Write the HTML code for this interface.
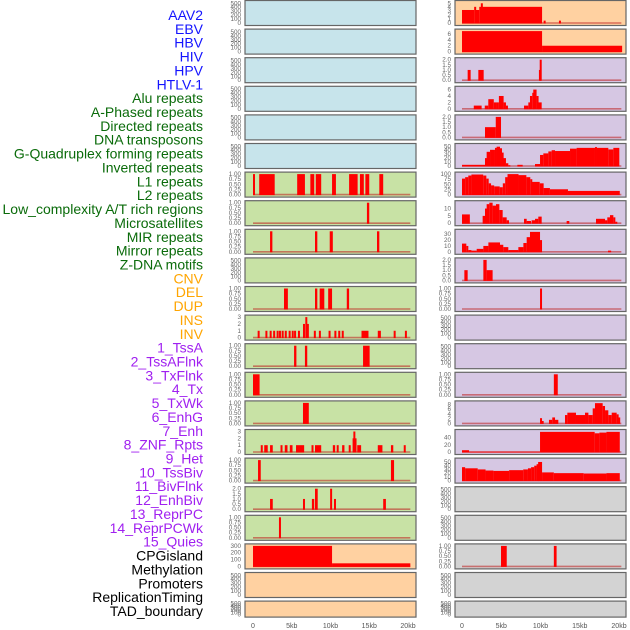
<!DOCTYPE html>
<html><head><meta charset="utf-8"><style>
html,body{margin:0;padding:0;background:#fff;}
svg{display:block;font-family:"Liberation Sans",sans-serif;}
</style></head><body>
<svg id="chart" width="630" height="630" viewBox="0 0 630 630" xmlns="http://www.w3.org/2000/svg"></svg>
<script>
const rowLabels = ["AAV2","EBV","HBV","HIV","HPV","HTLV-1","Alu repeats","A-Phased repeats","Directed repeats","DNA transposons","G-Quadruplex forming repeats","Inverted repeats","L1 repeats","L2 repeats","Low_complexity A/T rich regions","Microsatellites","MIR repeats","Mirror repeats","Z-DNA motifs","CNV","DEL","DUP","INS","INV","1_TssA","2_TssAFlnk","3_TxFlnk","4_Tx","5_TxWk","6_EnhG","7_Enh","8_ZNF_Rpts","9_Het","10_TssBiv","11_BivFlnk","12_EnhBiv","13_ReprPC","14_ReprPCWk","15_Quies","CPGisland","Methylation","Promoters","ReplicationTiming","TAD_boundary"];
const labelGroups = [6,13,5,15,5];
const groupColors = ["#1414ff","#0a6b0a","#ffa500","#a020f0","#000000"];
const xTickLabels = ["0","5kb","10kb","15kb","20kb"];
const xTickValues = [0,5,10,15,20];

const T500 = ["0","100","200","300","400","500"];
const T300 = ["0","100","200","300"];
const T1 = ["0.00","0.25","0.50","0.75","1.00"];
const T2 = ["0.0","0.5","1.0","1.5","2.0"];
const T3 = ["0","1","2","3"];
const T5 = ["0","1","2","3","4","5"];
const T6 = ["0","2","4","6"];
const T8 = ["0","2","4","6","8"];
const T10 = ["0","5","10"];
const T30 = ["0","10","20","30"];
const T40 = ["0","20","40"];
const T50 = ["0","10","20","30","40","50"];
const T100 = ["0","25","50","75","100"];

const leftBg = ["b","b","b","b","b","b","g","g","g","g","g","g","g","g","g","g","g","g","g","o","o","o"];
const rightBg = ["o","o","p","p","p","p","p","p","p","p","p","p","p","p","p","p","p","y","y","y","y","y"];
const leftYmax = [520,520,520,520,520,520,1,1,1,520,1,3,1,1,1,3,1,2,1,300,520,520];
const rightYmax = [5.2,7,2,6.4,2,52,100,14,35,2,1,520,520,1,8.6,57,55,520,520,1,520,520];
const leftTicks = [T500,T500,T500,T500,T500,T500,T1,T1,T1,T500,T1,T3,T1,T1,T1,T3,T1,T2,T1,T300,T500,T500];
const rightTicks = [T5,T6,T2,T6,T2,T50,T100,T10,T30,T2,T1,T500,T500,T1,T8,T40,T50,T500,T500,T1,T500,T500];

const leftSegs = [[],[],[],[],[],[],
 [[0,0.1,1],[0.8,2.8,1],[5.7,6.7,1],[7.4,7.9,1],[8.1,8.8,1],[10.2,10.7,1],[12.4,13.5,1],[13.8,14.3,1],[14.5,15.0,1],[16.3,16.8,1]],
 [[14.7,15.0,1]],
 [[2.2,2.5,1],[8.0,8.3,1],[9.9,10.3,1],[16.0,16.3,1]],
 [],
 [[4.0,4.5,1],[8.0,8.3,1],[8.6,9.2,1],[9.7,10.2,1],[12.1,12.4,1]],
 [[0.6,0.85,1],[1.6,1.85,1],[2.15,2.4,1],[2.6,2.85,1],[3.05,3.3,1],[3.35,3.6,1],[3.7,3.95,1],[4.1,4.35,1],[4.6,4.85,1],[5.0,5.25,1],[5.3,5.55,1],[5.8,6.05,1],[6.45,6.7,2],[6.75,6.95,3],[6.95,7.2,2],[7.85,8.1,1],[8.5,8.75,1],[9.75,10.0,1],[10.5,10.75,1],[11.0,11.25,1],[11.45,11.7,1],[14.0,14.9,1],[16.1,16.5,1],[18.15,18.4,1],[19.6,19.85,1]],
 [[5.3,5.6,1],[6.7,7.0,1],[14.2,15.05,1]],
 [[0,0.85,1]],
 [[6.45,7.2,1]],
 [[1.0,1.25,1],[1.45,1.9,1],[2.2,2.55,1],[3.55,3.8,1],[4.1,4.45,1],[4.75,5.1,1],[5.55,6.6,1],[7.55,7.8,1],[8.0,8.8,1],[10.3,10.6,1],[10.8,11.05,1],[11.5,11.8,1],[12.35,12.6,1],[12.85,12.95,2],[12.95,13.1,3],[13.1,13.2,2],[13.45,13.95,1],[16.1,16.7,1],[17.8,18.1,1],[19.45,19.7,1]],
 [[0.65,1.0,1],[17.8,18.2,1]],
 [[2.2,2.55,1],[6.45,6.7,1],[7.6,7.9,1],[8.0,8.35,2],[9.95,10.2,2],[10.45,10.7,1],[16.8,17.15,1]],
 [[3.35,3.6,1]],
 [[0,10.2,300],[10.2,20.3,45]],
 [],[]];

const rightSegs = [
 [[0,1.55,3.3],[1.55,1.75,4.1],[1.75,2.2,3.3],[2.2,2.4,4.1],[2.4,2.6,5],[2.6,10.2,4.1],[10.4,10.6,0.6],[12.35,12.55,0.6]],
 [[0,10.2,7],[10.2,20.4,2]],
 [[0.72,1.1,1],[2.08,2.76,1],[9.8,9.9,1],[9.9,10.1,2]],
 [[1.5,2.5,1],[2.9,3.35,1],[3.35,4.05,3],[4.05,4.4,2],[4.4,4.7,2],[4.7,5.3,4],[5.3,5.6,2],[5.6,5.75,1],[7.9,8.45,1],[8.45,8.66,2],[8.66,8.95,4],[8.95,9.08,5],[9.08,9.5,6],[9.5,9.7,4],[9.7,10.15,2]],
 [[2.93,4.3,1],[4.3,4.97,2]],
 [[0,2.93,3],[2.93,3.14,20],[3.14,3.57,36],[3.57,4.2,41],[4.2,4.41,46],[4.41,4.84,49],[4.84,5.05,45],[5.05,5.26,34],[5.26,5.6,20],[5.6,5.9,7],[5.9,6.1,2],[7.05,7.73,3],[9.3,9.94,5],[9.94,10.36,28],[10.36,11.0,32],[11.0,11.42,37],[11.42,11.85,40],[11.85,13.76,38],[13.76,14.6,44],[14.6,16.94,46],[16.94,17.15,48],[17.15,18.64,46],[18.64,19.28,42],[19.28,20.04,46]],
 [[0,0.4,78],[0.4,0.8,85],[0.8,1.2,93],[1.2,2.7,98],[2.7,3.1,93],[3.1,3.4,78],[3.4,3.7,55],[3.7,4.1,45],[4.1,4.8,40],[4.8,5.2,36],[5.2,5.5,55],[5.5,5.8,85],[5.8,7.2,100],[7.2,8.2,95],[8.2,8.7,85],[8.7,8.9,75],[8.9,9.9,62],[9.9,10.4,55],[10.4,11.2,32],[11.2,13.5,26],[13.5,20.1,18]],
 [[0,1.0,6],[2.63,2.93,5],[2.93,3.14,10],[3.14,3.48,13],[3.48,3.9,14],[3.9,4.33,12],[4.33,4.76,13],[4.76,5.18,9],[5.18,5.69,4],[5.69,5.99,2],[7.9,8.24,3],[8.24,8.79,1.5],[8.87,9.3,2],[9.3,9.72,3],[9.72,10.15,4.5],[13.33,13.67,1.5],[17.07,18.22,3],[18.22,18.51,2],[18.51,18.85,4],[18.85,19.28,5.5],[19.28,19.53,4],[19.53,19.7,1]],
 [[0,0.55,14],[0.55,0.8,10],[0.8,1.2,3],[1.2,1.87,2],[1.87,2.72,5],[2.72,3.36,10],[3.36,4.84,16],[4.84,5.26,12],[5.26,5.9,8],[5.9,7.18,3],[7.18,7.82,8],[7.82,8.24,15],[8.24,8.66,25],[8.66,9.94,34],[9.94,10.15,20],[18.6,19.0,2]],
 [[0.3,0.72,1],[2.72,3.14,2],[3.14,3.9,1]],
 [[9.94,10.15,1]],
 [],[],
 [[11.7,12.2,1]],
 [[9.94,10.15,2.2],[10.15,10.36,1],[11.08,11.5,1.5],[11.5,11.85,2.5],[11.85,12.27,1.5],[13.12,13.42,3.5],[13.42,14.52,4.5],[14.52,15.67,3.5],[15.67,16.1,4.5],[16.1,16.65,3.5],[16.65,16.94,6.3],[16.94,17.92,8.5],[17.92,18.22,7.3],[18.22,18.64,5.5],[18.64,19.07,3.5],[19.07,19.7,4.5],[19.7,19.9,3.8],[19.9,20.13,2.5]],
 [[0,0.9,5],[0.9,9.94,1],[9.94,16.9,56],[16.9,17.5,52],[17.5,18.4,54],[18.4,20.1,56]],
 [[0,0.4,36],[0.4,2,33],[2,3,30],[3,4,27],[4,6,26],[6,7.8,28],[7.8,8.4,30],[8.4,8.8,33],[8.8,9.2,36],[9.2,9.5,40],[9.5,9.7,44],[9.7,10.2,50],[10.2,11.7,22],[11.7,15.5,20],[15.5,18.4,19],[18.4,20.1,20]],
 [],[],
 [[4.97,5.7,1],[11.7,12.05,1]],
 [],[]];

const NS = "http://www.w3.org/2000/svg";
const svg = document.getElementById("chart");
const bgColors = {b:"#c7e4eb",g:"#c8e2a5",o:"#ffd1a1",p:"#d6c7e3",y:"#d3d3d3"};
function mk(tag, attrs, parent){const e=document.createElementNS(NS,tag);for(const k in attrs)e.setAttribute(k,attrs[k]);(parent||svg).appendChild(e);return e;}

let gi=0, cnt=0;
rowLabels.forEach((lab,i)=>{
  while(cnt>=labelGroups[gi]){cnt=0;gi++;}
  cnt++;
  const t=mk("text",{x:203,y:15+i*13.86+5,"text-anchor":"end","font-size":"14",fill:groupColors[gi]});
  t.textContent=lab;
  
  
});

const cols=[
  {x0:245,x1:416,d0:253,kbpx:7.75,segs:leftSegs,ymax:leftYmax,ticks:leftTicks,bg:leftBg,name:"left"},
  {x0:455,x1:626,d0:462,kbpx:7.85,segs:rightSegs,ymax:rightYmax,ticks:rightTicks,bg:rightBg,name:"right"}
];
cols.forEach(c=>{
  const xs=kb=>c.d0+kb*c.kbpx;
  for(let r=0;r<22;r++){
    const top=0.5+r*28.6, h=(r===21?16:25);
    const g=mk("g",{});
    
    
    const y0=top+h-2.5, yt=top+2;
    const ys=v=>y0-(v/c.ymax[r])*(y0-yt);
    const rect=mk("rect",{x:c.x0,y:top,width:c.x1-c.x0,height:h,fill:bgColors[c.bg[r]],stroke:"#666",["stroke-width"]:1.2},g);
    
    
    c.ticks[r].forEach(lbl=>{
      const v=parseFloat(lbl);
      const t=mk("text",{x:c.x0-4,y:ys(v)+2,"text-anchor":"end","font-size":"6.3",fill:"#666"},g);
      t.textContent=lbl;
      
      
    });
    const segs=c.segs[r];
    if(segs.length){
      const bl=mk("line",{x1:xs(0),x2:xs(20.3),y1:y0,y2:y0,stroke:"rgba(190,30,30,0.55)","stroke-width":1.6},g);
      
      
      segs.forEach(s=>{
        const x1=xs(s[0]), x2=xs(s[1]), yv=ys(s[2]);
        const b=mk("rect",{x:x1,y:yv,width:Math.max(2,x2-x1),height:y0-yv+0.5,fill:"#ff0000"},g);
        
        
      });
    }
  }
  xTickValues.forEach((v,i)=>{
    const t=mk("text",{x:xs(v),y:628,"text-anchor":"middle","font-size":"7",fill:"#555"});
    t.textContent=xTickLabels[i];
    
    
  });
});
</script>
</body></html>
